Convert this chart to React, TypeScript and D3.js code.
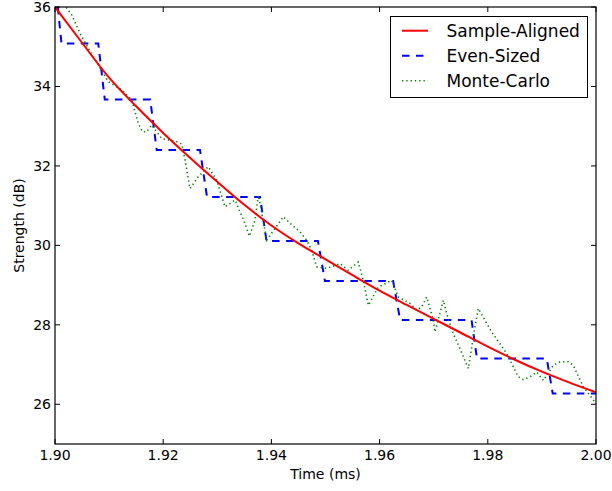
import React from "react";
import * as d3 from "d3";

// ---- Data ----
const sampleT = [1.900, 1.905, 1.910, 1.915, 1.920, 1.925, 1.930, 1.935, 1.940, 1.945, 1.950, 1.955, 1.960, 1.965, 1.970, 1.975, 1.980, 1.985, 1.990, 1.995, 2.000];
const sampleV = [36.0, 35.1, 34.22, 33.5, 32.83, 32.2, 31.6, 31.02, 30.5, 30.05, 29.65, 29.25, 28.86, 28.5, 28.15, 27.8, 27.45, 27.12, 26.82, 26.55, 26.3];

const evenT = [1.9000, 1.9012, 1.9080, 1.9092, 1.9176, 1.9188, 1.9268, 1.9281, 1.9379, 1.9391, 1.9486, 1.9499, 1.9625, 1.9638, 1.9770, 1.9780, 1.9909, 1.9920, 2.0000];
const evenV = [36.7, 35.08, 35.08, 33.67, 33.67, 32.40, 32.40, 31.22, 31.22, 30.11, 30.11, 29.10, 29.10, 28.12, 28.12, 27.15, 27.15, 26.27, 26.27];

const mcT = [1.9000, 1.9010, 1.90309, 1.90462, 1.90616, 1.90800, 1.90985, 1.91233, 1.91418, 1.91540, 1.91614, 1.91695, 1.91787, 1.91972, 1.92250, 1.92342, 1.92403, 1.92495, 1.92649, 1.92834, 1.92989, 1.93142, 1.93327, 1.93512, 1.93591, 1.93697, 1.93758, 1.93789, 1.93913, 1.94220, 1.94344, 1.94529, 1.94652, 1.94745, 1.94837, 1.95022, 1.95268, 1.95421, 1.95606, 1.95699, 1.95791, 1.95976, 1.96224, 1.96346, 1.96562, 1.96686, 1.96778, 1.96871, 1.96993, 1.97024, 1.97178, 1.97240, 1.97362, 1.97486, 1.97640, 1.97763, 1.97824, 1.98072, 1.98349, 1.98564, 1.98656, 1.98780, 1.98904, 1.99026, 1.99211, 1.99335, 1.99488, 1.99580, 1.99765, 2.0000];
const mcV = [36.45, 36.2, 35.80, 35.34, 34.96, 34.54, 34.12, 33.91, 33.66, 33.07, 32.86, 32.86, 33.03, 32.69, 32.61, 32.55, 32.15, 31.43, 31.73, 31.98, 31.64, 30.97, 31.14, 30.55, 30.23, 30.63, 31.26, 31.06, 30.13, 30.72, 30.56, 30.34, 30.13, 29.88, 29.46, 29.42, 29.54, 29.37, 29.58, 29.12, 28.49, 28.95, 29.12, 28.70, 28.54, 28.37, 28.45, 28.70, 28.12, 27.82, 28.62, 28.28, 27.78, 27.40, 26.90, 27.95, 28.41, 27.82, 27.28, 26.69, 26.62, 26.69, 26.81, 26.60, 26.98, 27.07, 27.07, 26.98, 26.44, 26.02];

const xTicks = [1.90, 1.92, 1.94, 1.96, 1.98, 2.00];
const yTicks = [26, 28, 30, 32, 34, 36];
const seriesNames = ["Sample-Aligned", "Even-Sized", "Monte-Carlo"];

const FONT = "DejaVu Sans, sans-serif";

export default function App() {
  const W = 612, H = 491;
  const L = 55, R = 596, T = 7, B = 444;
  const x = d3.scaleLinear().domain([1.9, 2.0]).range([L, R]);
  const y = d3.scaleLinear().domain([25, 36]).range([B, T]);

  const sampleLine = d3.line<number>().x((_, i) => x(sampleT[i])).y((v) => y(v)).curve(d3.curveMonotoneX);
  const linear = (ts: number[]) => d3.line<number>().x((_, i) => x(ts[i])).y((v) => y(v));

  const styles = [
    { stroke: "#ff0000", dash: undefined as string | undefined, width: 2 },
    { stroke: "#0000ff", dash: "7.5,6.5", width: 2 },
    { stroke: "#008000", dash: "1.3,3", width: 1.6 },
  ];

  const tick = 5;

  return (
    <svg width={W} height={H} style={{ position: "absolute", left: 0, top: 0, background: "#fff" }} fontFamily={FONT}>
      <defs>
        <clipPath id="plot">
          <rect x={L} y={T} width={R - L} height={B - T} />
        </clipPath>
      </defs>
      <rect x={0} y={0} width={W} height={H} fill="#fff" />
      <g clipPath="url(#plot)" fill="none">
        <path d={linear(evenT)(evenV) || ""} stroke={styles[1].stroke} strokeWidth={styles[1].width} strokeDasharray={styles[1].dash} />
        <path d={linear(mcT)(mcV) || ""} stroke={styles[2].stroke} strokeWidth={styles[2].width} strokeDasharray={styles[2].dash} />
        <path d={sampleLine(sampleV) || ""} stroke={styles[0].stroke} strokeWidth={styles[0].width} />
      </g>
      {/* frame */}
      <rect x={L} y={T} width={R - L} height={B - T} fill="none" stroke="#000" strokeWidth={1.2} />
      {/* x ticks */}
      {xTicks.map((t) => (
        <g key={"x" + t}>
          <line x1={x(t)} x2={x(t)} y1={B} y2={B - tick} stroke="#000" strokeWidth={1} />
          <line x1={x(t)} x2={x(t)} y1={T} y2={T + tick} stroke="#000" strokeWidth={1} />
          <text x={x(t)} y={460} fontSize={14} textAnchor="middle" fill="#000">{t.toFixed(2)}</text>
        </g>
      ))}
      {/* y ticks */}
      {yTicks.map((v) => (
        <g key={"y" + v}>
          <line x1={L} x2={L + tick} y1={y(v)} y2={y(v)} stroke="#000" strokeWidth={1} />
          <line x1={R} x2={R - tick} y1={y(v)} y2={y(v)} stroke="#000" strokeWidth={1} />
          <text x={51} y={y(v)} dy="0.36em" fontSize={14} textAnchor="end" fill="#000">{v}</text>
        </g>
      ))}
      <text x={(L + R) / 2} y={479} fontSize={14} textAnchor="middle" fill="#000">Time (ms)</text>
      <text transform={`translate(23.5, ${(T + B) / 2}) rotate(-90)`} fontSize={14} textAnchor="middle" fill="#000">Strength (dB)</text>
      {/* legend */}
      <rect x={390.5} y={16.5} width={197} height={81} fill="#fff" stroke="#000" strokeWidth={1} />
      {seriesNames.map((name, i) => {
        const ly = 30.7 + i * 25;
        const s = styles[i];
        return (
          <g key={name}>
            <line x1={402} x2={428} y1={ly} y2={ly} stroke={s.stroke} strokeWidth={s.width} strokeDasharray={s.dash} />
            <text x={446.5} y={ly + 6.3} fontSize={17} fill="#000">{name}</text>
          </g>
        );
      })}
    </svg>
  );
}
